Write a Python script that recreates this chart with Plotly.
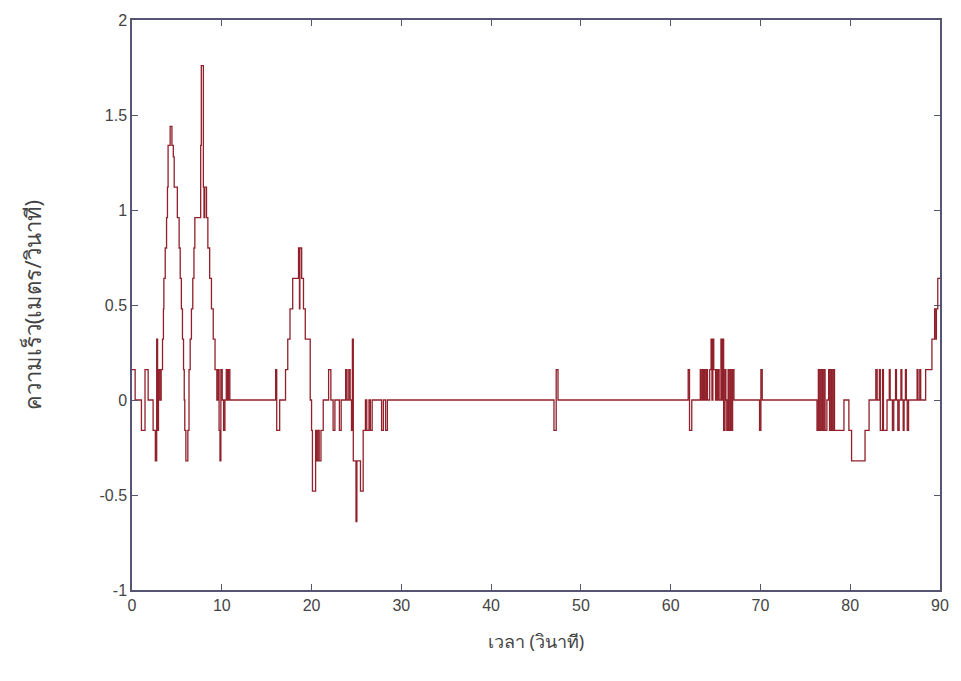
import plotly.graph_objects as go

# time (s) at which each step begins, and the speed (m/s) held from that time
time_s = [
    0.0, 0.35, 1.05, 1.45, 1.8, 2.35, 2.6, 2.75, 2.85, 2.95, 3.1, 3.25, 3.4, 3.5, 3.55,
    3.7, 3.85, 3.95, 4.02, 4.25, 4.45, 4.6, 4.7, 5.05, 5.25, 5.37, 5.5, 5.62, 5.74, 5.82,
    5.88, 6.0, 6.22, 6.35, 6.48, 6.62, 6.77, 6.9, 7.0, 7.65, 7.72, 7.95, 8.02, 8.1, 8.3,
    8.45, 8.65, 8.85, 9.05, 9.25, 9.45, 9.6, 9.7, 9.8, 9.9, 10.05, 10.2, 10.35, 10.5,
    10.65, 10.75, 10.9,
    16.0, 16.12, 16.45, 17.1, 17.35, 17.6, 17.9, 18.55, 18.65, 18.7, 18.9, 19.1, 19.3,
    19.85, 20.0, 20.1, 20.45, 20.55, 20.7, 20.85, 21.05, 21.3, 21.9, 22.15, 22.4, 22.6,
    23.1, 23.3, 23.8, 23.95, 24.15, 24.3, 24.45, 24.55, 24.65, 24.95, 25.05, 25.45,
    25.75, 26.0, 26.15, 26.4, 26.55, 26.75, 27.8, 28.0, 28.25, 28.45,
    47.0, 47.25, 47.45,
    61.95, 62.1, 62.35, 63.3, 63.4, 63.55, 63.65, 63.75, 63.85, 64.0, 64.1, 64.35, 64.5,
    64.6, 64.7, 64.8, 65.0, 65.1, 65.2, 65.3, 65.4, 65.6, 65.7, 65.8, 65.9, 66.05, 66.15,
    66.25, 66.4, 66.5, 66.65, 66.75, 66.9, 67.05,
    69.9, 70.05, 70.2,
    76.3, 76.45, 76.6, 76.75, 76.9, 77.05, 77.2, 77.4, 77.6, 77.7, 77.85, 77.95, 78.1,
    78.25, 79.3, 79.85, 80.15, 81.65, 82.1, 82.85, 83.0, 83.25, 83.35, 83.6, 83.7, 84.1,
    84.35, 84.45, 84.7, 84.85, 85.05, 85.15, 85.3, 85.45, 85.65, 85.75, 85.9, 86.0,
    86.15, 86.25, 86.35, 86.5, 87.45, 87.55, 87.75, 87.85, 88.4, 89.1, 89.4, 89.55, 89.6,
    89.75, 90.0,
]
speed_ms = [
    0.16, 0, -0.16, 0.16, 0, -0.16, -0.32, 0.32, -0.16, 0.16, 0, 0.16, 0.32, 0.48, 0.64,
    0.8, 0.96, 1.12, 1.34, 1.44, 1.34, 1.28, 1.12, 0.96, 0.8, 0.64, 0.48, 0.32, 0.16, 0,
    -0.16, -0.32, -0.16, 0.16, 0.32, 0.48, 0.64, 0.8, 0.96, 1.34, 1.76, 1.12, 0.96, 1.12, 0.96,
    0.8, 0.64, 0.48, 0.32, 0.16, 0, 0.16, -0.16, -0.32, 0.16, 0, -0.16, 0, 0.16,
    0, 0.16, 0,
    0.16, -0.16, 0, 0.16, 0.32, 0.48, 0.64, 0.8, 0.48, 0.8, 0.64, 0.48, 0.32,
    0, -0.16, -0.48, -0.16, -0.32, -0.16, -0.32, -0.16, 0, 0.16, 0, -0.16, 0,
    -0.16, 0, 0.16, 0, 0.16, 0, -0.16, 0.32, -0.32, -0.64, -0.32, -0.48,
    -0.16, 0, -0.16, 0, -0.16, 0, -0.16, 0, -0.16, 0,
    -0.16, 0.16, 0,
    0.16, -0.16, 0, 0.16, 0, 0.16, 0, 0.16, 0, 0.16, 0, 0.16, 0.32,
    0, 0.32, 0.16, 0, 0.16, 0, 0.16, 0, 0.32, 0, 0.32, -0.16, 0.16, 0,
    -0.16, 0.16, -0.16, 0.16, -0.16, 0.16, 0,
    -0.16, 0.16, 0,
    -0.16, 0.16, -0.16, 0.16, -0.16, 0.16, -0.16, 0, 0.16, -0.16, 0.16, -0.16, 0.16,
    -0.16, 0, -0.16, -0.32, -0.16, 0, 0.16, 0, 0.16, -0.16, 0.16, -0.16, 0,
    0.16, 0, -0.16, 0, 0.16, 0, -0.16, 0, 0.16, 0, -0.16, 0,
    0.16, 0, -0.16, 0, 0.16, 0, 0.16, 0, 0.16, 0.32, 0.48, 0.32, 0.48,
    0.64, 0.64,
]

x_tick_vals = [0, 10, 20, 30, 40, 50, 60, 70, 80, 90]
y_tick_vals = [-1, -0.5, 0, 0.5, 1, 1.5, 2]
y_tick_text = ["-1", "-0.5", "0", "0.5", "1", "1.5", "2"]

x_title = "เวลา (วินาที)"
y_title = "ความเร็ว(เมตร/วินาที)"

frame = "rgb(85,85,115)"
tick_font = dict(family="Liberation Sans, Arial, sans-serif", size=16, color="#444444")

fig = go.Figure(
    go.Scatter(
        x=time_s, y=speed_ms, mode="lines",
        line=dict(color="rgb(145,32,42)", width=1.3, shape="hv"),
        showlegend=False,
    )
)

fig.update_layout(
    width=961, height=681,
    margin=dict(l=132, r=14, t=20, b=91),
    paper_bgcolor="white", plot_bgcolor="white",
    font=dict(family="Noto Sans, DejaVu Sans, sans-serif", color="#444444"),
)
fig.update_xaxes(
    range=[0, 90], tickvals=x_tick_vals, ticks="inside", ticklen=6, tickcolor=frame,
    showline=True, linecolor=frame, linewidth=1.5, mirror="ticks", showgrid=False,
    zeroline=False, tickfont=tick_font,
    title=dict(text=x_title, font=dict(size=18, color="#444444"), standoff=22),
)
fig.update_yaxes(
    range=[-1, 2], tickvals=y_tick_vals, ticktext=y_tick_text, ticks="inside", ticklen=6,
    tickcolor=frame, showline=True, linecolor=frame, linewidth=1.5, mirror="ticks",
    showgrid=False, zeroline=False, tickfont=tick_font,
    title=dict(text=y_title, font=dict(size=22, color="#444444"), standoff=52),
)

fig.write_html("out.html")
